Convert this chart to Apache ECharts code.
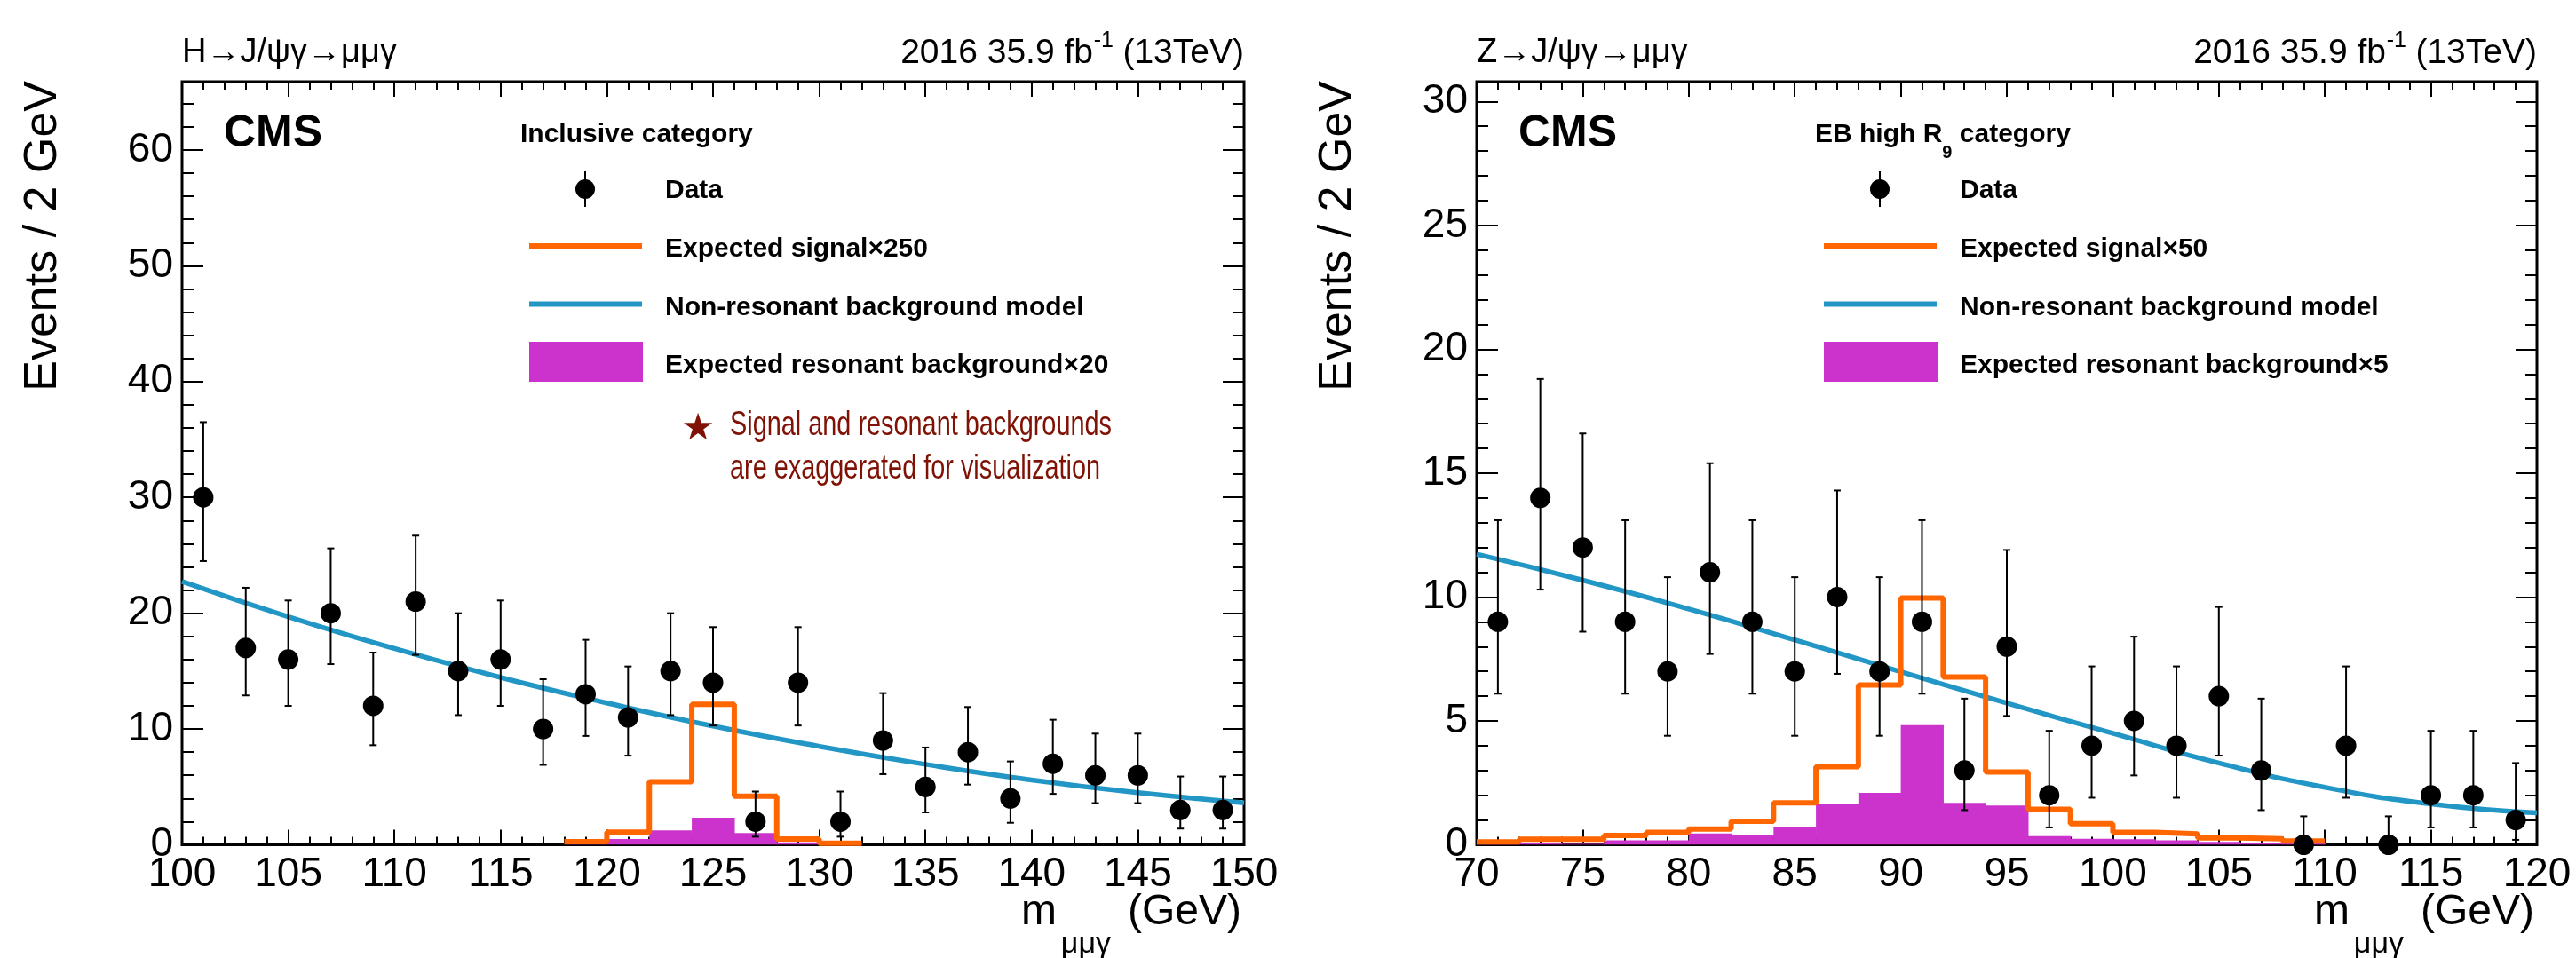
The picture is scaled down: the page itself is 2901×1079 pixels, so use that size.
<!DOCTYPE html>
<html><head><meta charset="utf-8">
<script src="https://cdn.jsdelivr.net/npm/echarts@6/dist/echarts.min.js"></script>
<style>html,body{margin:0;padding:0;background:#fff}#c{width:2901px;height:1079px}</style>
</head><body><div id="c"></div>
<script>
// ===================== DATA =====================
const BIN_WIDTH = 2;

// ---- Left panel: H -> J/psi gamma -> mu mu gamma, inclusive category ----
const hMassRange = [100, 150];
const hXTickStep = 5;
const hYRange = [0, 65.9];
const hYTickStep = 10;
const hYMinorStep = 2;
const hBinCenters = [101,103,105,107,109,111,113,115,117,119,121,123,125,127,129,131,133,135,137,139,141,143,145,147,149];
const hCounts     = [30,17,16,20,12,21,15,16,10,13,11,15,14,2,14,2,9,5,8,4,7,6,6,3,3];
const hErrLow     = [24.5,12.9,12.0,15.6,8.6,16.4,11.2,12.0,6.9,9.4,7.7,11.2,10.3,0.7,10.3,0.7,6.1,2.8,5.2,1.9,4.4,3.6,3.6,1.4,1.4];
const hErrHigh    = [36.5,22.2,21.1,25.6,16.6,26.7,20.0,21.1,14.3,17.7,15.4,20.0,18.8,4.6,18.8,4.6,13.1,8.4,11.9,7.2,10.8,9.6,9.6,5.9,5.9];
const hHistBinLo  = [118,120,122,124,126,128,130];
const hSignalX250 = [0.27,1.1,5.44,12.14,4.2,0.49,0.14];
const hResonantX20 = [0.05,0.5,1.24,2.34,1.02,0.22,0.05];
const hBkgMass  = [100,105,110,115,120,125,130,135,140,145,150];
const hBkgModel = [22.75,19.7,16.95,14.45,12.25,10.25,8.5,6.95,5.6,4.5,3.63];

// ---- Right panel: Z -> J/psi gamma -> mu mu gamma, EB high R9 category ----
const zMassRange = [70, 120];
const zXTickStep = 5;
const zYRange = [0, 30.8];
const zYTickStep = 5;
const zYMinorStep = 1;
const zBinCenters = [71,73,75,77,79,81,83,85,87,89,91,93,95,97,99,101,103,105,107,109,111,113,115,117,119];
const zCounts     = [9,14,12,9,7,11,9,7,10,7,9,3,8,2,4,5,4,6,3,0,4,0,2,2,1];
const zErrLow     = [6.1,10.3,8.6,6.1,4.4,7.7,6.1,4.4,6.9,4.4,6.1,1.4,5.2,0.7,1.9,2.8,1.9,3.6,1.4,0,1.9,0,0.7,0.7,0.2];
const zErrHigh    = [13.1,18.8,16.6,13.1,10.8,15.4,13.1,10.8,14.3,10.8,13.1,5.9,11.9,4.6,7.2,8.4,7.2,9.6,5.9,1.15,7.2,1.15,4.6,4.6,3.3];
const zHistBinLo  = [70,72,74,76,78,80,82,84,86,88,90,92,94,96,98,100,102,104,106,108];
const zSignalX50  = [0.12,0.22,0.22,0.38,0.5,0.64,0.95,1.69,3.15,6.45,9.96,6.77,2.94,1.43,0.85,0.5,0.44,0.28,0.24,0.15];
const zResonantX5 = [0.04,0.09,0.04,0.18,0.18,0.46,0.4,0.72,1.65,2.1,4.83,1.69,1.59,0.35,0.24,0.22,0.18,0.12,0.09,0.08];
const zBkgMass  = [70,75,80,85,90,95,100,105,110,115,120];
const zBkgModel = [11.73,10.68,9.52,8.27,6.98,5.72,4.5,3.3,2.32,1.65,1.29];

// ===================== STYLE / LAYOUT =====================
const FONT = '"Liberation Sans", Arial, Helvetica, sans-serif';
const BLACK = '#000000';
const ORANGE = '#ff6600';
const BLUE = '#2297c5';
const MAGENTA = '#cc33cc';
const NOTE_RED = '#7f1204';

const panels = [
  {
    grid: {left: 205, top: 92, width: 1196, height: 859.5},
    dx: 0,
    xRange: hMassRange, xStep: hXTickStep, yRange: hYRange, yStep: hYTickStep, yMinor: hYMinorStep,
    centers: hBinCenters, counts: hCounts, lo: hErrLow, hi: hErrHigh,
    binLo: hHistBinLo, sig: hSignalX250, res: hResonantX20, bkgX: hBkgMass, bkgY: hBkgModel,
    process: 'H→J/ψγ→μμγ',
    header: 'Inclusive category',
    sigLabel: 'Expected signal×250',
    resLabel: 'Expected resonant background×20',
    note: true
  },
  {
    grid: {left: 1663, top: 92, width: 1194, height: 859.5},
    dx: 1458,
    xRange: zMassRange, xStep: zXTickStep, yRange: zYRange, yStep: zYTickStep, yMinor: zYMinorStep,
    centers: zBinCenters, counts: zCounts, lo: zErrLow, hi: zErrHigh,
    binLo: zHistBinLo, sig: zSignalX50, res: zResonantX5, bkgX: zBkgMass, bkgY: zBkgModel,
    process: 'Z→J/ψγ→μμγ',
    header: '{b|EB high R}{s|9}{b| category}',
    sigLabel: 'Expected signal×50',
    resLabel: 'Expected resonant background×5',
    note: false
  }
];

function xAxisDef(gi, p, pos, showLabel) {
  return {
    gridIndex: gi, type: 'value', position: pos, min: p.xRange[0], max: p.xRange[1], interval: p.xStep,
    axisLine: {show: false, onZero: false},
    axisTick: {show: true, inside: true, length: 17, lineStyle: {color: BLACK, width: 2}},
    minorTick: {show: true, splitNumber: 5, length: 9, lineStyle: {color: BLACK, width: 2}},
    axisLabel: {show: showLabel, margin: 11, fontSize: 46, color: BLACK, fontFamily: FONT},
    splitLine: {show: false}, minorSplitLine: {show: false}
  };
}
function yAxisDef(gi, p, pos, step, len, showLabel) {
  return {
    gridIndex: gi, type: 'value', position: pos, min: p.yRange[0], max: p.yRange[1], interval: step,
    axisLine: {show: false, onZero: false},
    axisTick: {show: true, inside: true, length: len, lineStyle: {color: BLACK, width: 2}},
    axisLabel: {show: showLabel, margin: 10, fontSize: 46, color: BLACK, fontFamily: FONT, showMaxLabel: false},
    splitLine: {show: false}
  };
}

const grids = [], xAxes = [], yAxes = [], series = [], graphics = [];

panels.forEach((p, gi) => {
  grids.push(Object.assign({show: true, borderColor: BLACK, borderWidth: 3, backgroundColor: 'transparent', outerBoundsMode: 'none'}, p.grid));
  const xi = xAxes.length, yi = yAxes.length;
  xAxes.push(xAxisDef(gi, p, 'bottom', true), xAxisDef(gi, p, 'top', false));
  yAxes.push(
    yAxisDef(gi, p, 'left', p.yStep, 24, true),
    yAxisDef(gi, p, 'left', p.yMinor, 13, false),
    yAxisDef(gi, p, 'right', p.yStep, 24, false),
    yAxisDef(gi, p, 'right', p.yMinor, 13, false)
  );
  const last = p.binLo.length - 1;
  series.push(
    {
      type: 'custom', name: p.resLabel, xAxisIndex: xi, yAxisIndex: yi, z: 2, clip: true,
      data: p.binLo.map((lo, i) => [lo, p.res[i]]),
      renderItem: (params, api) => {
        const lo = api.value(0), v = api.value(1);
        const a = api.coord([lo, v]), b = api.coord([lo + BIN_WIDTH, 0]);
        return {type: 'rect', shape: {x: a[0], y: a[1], width: b[0] - a[0] + 0.6, height: b[1] - a[1]}, style: {fill: MAGENTA}};
      }
    },
    {
      type: 'line', name: 'Non-resonant background model', xAxisIndex: xi, yAxisIndex: yi, z: 3,
      smooth: 0.5, symbol: 'none', showSymbol: false,
      lineStyle: {color: BLUE, width: 5.5},
      data: p.bkgX.map((x, i) => [x, p.bkgY[i]])
    },
    {
      type: 'line', name: p.sigLabel, xAxisIndex: xi, yAxisIndex: yi, z: 4, step: 'end',
      symbol: 'none', showSymbol: false, lineStyle: {color: ORANGE, width: 6},
      data: p.binLo.map((lo, i) => [lo, p.sig[i]]).concat([[p.binLo[last] + BIN_WIDTH, p.sig[last]]])
    },
    {
      type: 'custom', name: 'Data uncertainty', xAxisIndex: xi, yAxisIndex: yi, z: 5, clip: false,
      data: p.centers.map((c, i) => [c, p.lo[i], p.hi[i]]),
      renderItem: (params, api) => {
        const x = api.value(0);
        const a = api.coord([x, api.value(1)]), b = api.coord([x, api.value(2)]);
        const st = {stroke: BLACK, lineWidth: 2};
        return {type: 'group', children: [
          {type: 'line', shape: {x1: a[0], y1: a[1], x2: b[0], y2: b[1]}, style: st},
          {type: 'line', shape: {x1: a[0] - 4, y1: a[1], x2: a[0] + 4, y2: a[1]}, style: st},
          {type: 'line', shape: {x1: b[0] - 4, y1: b[1], x2: b[0] + 4, y2: b[1]}, style: st}
        ]};
      }
    },
    {
      type: 'scatter', name: 'Data', xAxisIndex: xi, yAxisIndex: yi, z: 6, clip: false,
      symbol: 'circle', symbolSize: 23, itemStyle: {color: BLACK, opacity: 1},
      data: p.centers.map((c, i) => [c, p.counts[i]])
    }
  );

  // ---- texts / legend (graphic) ----
  const dx = p.dx;
  const right = p.grid.left + p.grid.width;
  const txt = (x, y, text, st, extra) => Object.assign({type: 'text', x, y, z: 100,
    style: Object.assign({text, fill: BLACK, fontFamily: FONT, fontSize: 30, fontWeight: 'bold', align: 'left', verticalAlign: 'middle'}, st)}, extra || {});
  // y axis title
  graphics.push(txt(48.5 + dx, 91, 'Events / 2 GeV', {fontSize: 52, fontWeight: 'normal', align: 'right'}, {rotation: Math.PI / 2}));
  // x axis title
  graphics.push(txt(right - 3, 1027.5, '(GeV)', {fontSize: 48, fontWeight: 'normal', align: 'right'}));
  graphics.push(txt(right - 150, 1064, 'μμγ', {fontSize: 34, fontWeight: 'normal', align: 'right'}));
  graphics.push(txt(right - 211, 1027.5, 'm', {fontSize: 48, fontWeight: 'normal', align: 'right'}));
  // top texts
  graphics.push(txt(p.grid.left, 60, p.process, {fontSize: 38, fontWeight: 'normal'}));
  graphics.push(txt(right, 60.5, '(13TeV)', {fontSize: 39, fontWeight: 'normal', align: 'right'}));
  graphics.push(txt(right - 147, 46, '-1', {fontSize: 25, fontWeight: 'normal', align: 'right'}));
  graphics.push(txt(right - 170, 60.5, '2016 35.9 fb', {fontSize: 39, fontWeight: 'normal', align: 'right'}));
  // CMS
  graphics.push(txt(252 + dx, 151, 'CMS', {fontSize: 50}));
  // legend header
  graphics.push(txt(586 + dx, 152, p.header, {
    rich: {b: {fontSize: 30, fontWeight: 'bold', fontFamily: FONT}, s: {fontSize: 20, fontWeight: 'bold', fontFamily: FONT, padding: [40, 0, 0, 0]}}
  }));
  // legend: Data
  graphics.push({type: 'line', z: 100, shape: {x1: 659 + dx, y1: 193, x2: 659 + dx, y2: 233}, style: {stroke: BLACK, lineWidth: 2}});
  graphics.push({type: 'circle', z: 100, shape: {cx: 659 + dx, cy: 213, r: 11}, style: {fill: BLACK}});
  graphics.push(txt(749 + dx, 215, 'Data'));
  // legend: signal
  graphics.push({type: 'rect', z: 100, shape: {x: 596 + dx, y: 274, width: 127, height: 6}, style: {fill: ORANGE}});
  graphics.push(txt(749 + dx, 281, p.sigLabel));
  // legend: background model
  graphics.push({type: 'rect', z: 100, shape: {x: 596 + dx, y: 339.5, width: 127, height: 6}, style: {fill: BLUE}});
  graphics.push(txt(749 + dx, 346.5, 'Non-resonant background model'));
  // legend: resonant background
  graphics.push({type: 'rect', z: 100, shape: {x: 596 + dx, y: 385, width: 128, height: 45}, style: {fill: MAGENTA}});
  graphics.push(txt(749 + dx, 412, p.resLabel));
  if (p.note) {
    graphics.push(txt(786 + dx, 484, '★', {fontSize: 42, fontWeight: 'normal', fill: NOTE_RED, align: 'center', fontFamily: '"DejaVu Sans", sans-serif'}));
    graphics.push(txt(822 + dx, 479, 'Signal and resonant backgrounds', {fontSize: 39, fontWeight: 'normal', fill: NOTE_RED}, {scaleX: 0.74}));
    graphics.push(txt(822 + dx, 528, 'are exaggerated for visualization', {fontSize: 39, fontWeight: 'normal', fill: NOTE_RED}, {scaleX: 0.74}));
  }
});

const chart = echarts.init(document.getElementById('c'), null, {renderer: 'canvas'});
chart.setOption({
  animation: false,
  backgroundColor: '#ffffff',
  textStyle: {fontFamily: FONT},
  grid: grids,
  xAxis: xAxes,
  yAxis: yAxes,
  series: series,
  graphic: graphics
});
</script>
</body></html>
